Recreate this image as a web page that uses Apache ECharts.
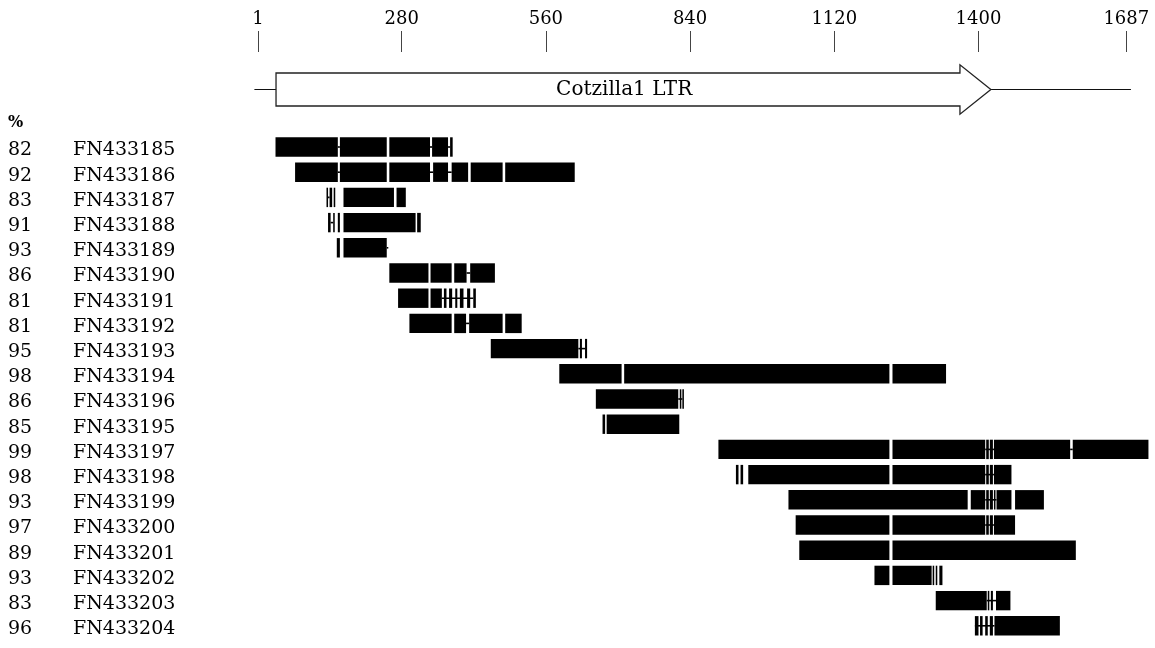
<!DOCTYPE html>
<html>
<head>
<meta charset="utf-8">
<script src="https://cdn.jsdelivr.net/npm/echarts@6/dist/echarts.min.js"></script>
<style>html,body{margin:0;padding:0;background:#fff;}#c{width:1155px;height:648px;}</style>
</head>
<body>
<div id="c"></div>
<script>
// ---- data ----
const tickValues = [1, 280, 560, 840, 1120, 1400, 1687];
const identity = [82, 92, 83, 91, 93, 86, 81, 81, 95, 98, 86, 85, 99, 98, 93, 97, 89, 93, 83, 96];
const accessions = ['FN433185','FN433186','FN433187','FN433188','FN433189','FN433190','FN433191','FN433192','FN433193','FN433194','FN433196','FN433195','FN433197','FN433198','FN433199','FN433200','FN433201','FN433202','FN433203','FN433204'];
const ltrName = 'Cotzilla1 LTR';
const ltrLine = [-6, 1696];      // flanking line extent
const ltrBody = [36, 1364];      // arrow body start, head base
const ltrTip = 1424;             // arrow tip
const ltrLabelAt = 712;
// aligned blocks per row: [start, end]
const blocks = [
  [[35,156],[160,251],[256,335],[339,370],[374,379]],
  [[73,156],[160,251],[256,335],[341,370],[377,409],[414,476],[481,616]],
  [[134,137],[140,145],[148,151],[167,265],[270,288]],
  [[137,142],[147,150],[156,160],[167,307],[310,317]],
  [[154,160],[167,251]],
  [[256,332],[336,377],[382,406],[413,461]],
  [[273,332],[336,358],[362,367],[372,378],[384,388],[393,400],[407,413],[419,424]],
  [[295,377],[382,405],[411,476],[481,513]],
  [[453,623],[626,630],[636,640]],
  [[586,707],[712,1227],[1233,1337]],
  [[657,817],[820,823],[825,828]],
  [[670,675],[678,819]],
  [[895,1227],[1233,1413],[1415,1420],[1422,1428],[1430,1578],[1583,1730]],
  [[929,934],[938,943],[953,1227],[1233,1413],[1415,1420],[1422,1428],[1430,1464]],
  [[1031,1379],[1385,1413],[1415,1420],[1422,1428],[1430,1433],[1435,1464],[1471,1527]],
  [[1045,1227],[1233,1413],[1415,1420],[1422,1428],[1430,1471]],
  [[1052,1227],[1233,1589]],
  [[1198,1227],[1233,1309],[1311,1314],[1317,1320],[1324,1330]],
  [[1317,1416],[1418,1421],[1424,1428],[1434,1462]],
  [[1393,1400],[1403,1408],[1413,1418],[1422,1428],[1431,1558]]
];
// thin connecting lines (gaps) per row: [start, end]
const links = [
  [[156,160],[335,339],[370,374]],
  [[156,160],[335,341],[370,377]],
  [[137,140]],
  [[142,147]],
  [[251,254]],
  [[406,413]],
  [[358,419]],
  [[405,411]],
  [[623,636]],
  [],
  [[817,825]],
  [],
  [[1413,1430],[1578,1583]],
  [[1413,1430]],
  [[1413,1435]],
  [[1413,1430]],
  [],
  [],
  [[1416,1434]],
  [[1393,1431]]
];

// ---- build ----
const linkData = [];
links.forEach((row, i) => row.forEach(s => linkData.push([s[0], s[1], i])));
const blockData = [];
blocks.forEach((row, i) => row.forEach(s => blockData.push([s[0], s[1], i])));

const FONT = 'DejaVu Serif';
const chart = echarts.init(document.getElementById('c'), null, {renderer: 'canvas'});

function segRender(thick) {
  return function (params, api) {
    const a = api.coord([api.value(0), api.value(2)]);
    const b = api.coord([api.value(1), api.value(2)]);
    const band = api.size([0, 1])[1];
    const h = thick ? band * 0.77 : 1.6;
    return {
      type: 'rect',
      shape: {x: a[0], y: a[1] - h / 2, width: b[0] - a[0], height: h},
      style: {fill: '#000'}
    };
  };
}

chart.setOption({
  backgroundColor: '#fff',
  animation: false,
  grid: [
    {left: 258, right: 28.7, top: 52, height: 75},
    {left: 258, right: 28.7, top: 134.4, height: 504}
  ],
  xAxis: [
    {
      gridIndex: 0, type: 'value', position: 'top', min: 1, max: 1687,
      axisLine: {show: false}, splitLine: {show: false},
      axisTick: {show: true, length: 21, customValues: tickValues, lineStyle: {color: '#444', width: 1}},
      axisLabel: {customValues: tickValues, margin: 24, color: '#000', fontFamily: FONT, fontSize: 18,
        formatter: v => String(v)}
    },
    {gridIndex: 1, type: 'value', min: 1, max: 1687, show: false}
  ],
  yAxis: [
    {gridIndex: 0, type: 'category', data: [ltrName], show: false},
    {
      gridIndex: 1, type: 'category', data: accessions, inverse: true,
      axisLine: {show: false}, axisTick: {show: false}, splitLine: {show: false},
      axisLabel: {
        align: 'left', margin: 250, color: '#000', fontFamily: FONT, fontSize: 19,
        formatter: (v, idx) => '{p|' + identity[idx] + '}{n|' + v + '}',
        rich: {
          p: {width: 65, fontFamily: FONT, fontSize: 19, color: '#000', padding: [7, 0, 0, 0]},
          n: {fontFamily: FONT, fontSize: 19, color: '#000', padding: [7, 0, 0, 0]}
        }
      }
    }
  ],
  graphic: [
    {type: 'text', left: 8, top: 115, style: {text: '%', fontFamily: FONT, fontSize: 16, fontWeight: 'bold', fill: '#000'}}
  ],
  series: [
    {
      type: 'custom', xAxisIndex: 0, yAxisIndex: 0, clip: false, silent: true,
      data: [[ltrLine[0], ltrLine[1], ltrBody[0], ltrBody[1], ltrTip, ltrLabelAt]],
      renderItem: function (params, api) {
        const y = api.coord([0, 0])[1];
        const x = i => api.coord([api.value(i), 0])[0];
        const bh = 16.5, hh = 24.7;
        const xb = x(2), xh = x(3), xt = x(4);
        return {
          type: 'group',
          children: [
            {type: 'line', shape: {x1: x(0), y1: y, x2: x(1), y2: y}, style: {stroke: '#111', lineWidth: 1.2}},
            {type: 'polygon', shape: {points: [[xb, y - bh], [xh, y - bh], [xh, y - hh], [xt, y], [xh, y + hh], [xh, y + bh], [xb, y + bh]]},
              style: {fill: '#fff', stroke: '#222', lineWidth: 1.3}},
            {type: 'text', x: x(5), y: y, style: {text: ltrName, fontFamily: FONT, fontSize: 20, fill: '#000', align: 'center', verticalAlign: 'middle'}}
          ]
        };
      }
    },
    {
      type: 'custom', xAxisIndex: 1, yAxisIndex: 1, clip: false, silent: true,
      data: linkData, renderItem: segRender(false)
    },
    {
      type: 'custom', xAxisIndex: 1, yAxisIndex: 1, clip: false, silent: true,
      data: blockData, renderItem: segRender(true)
    }
  ]
});
</script>
</body>
</html>
